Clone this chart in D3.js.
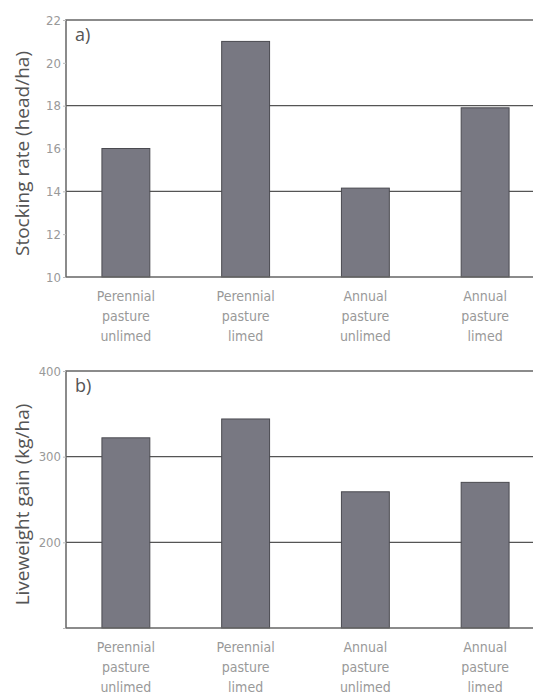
<!DOCTYPE html>
<html>
<head>
<meta charset="utf-8">
<script src="https://cdn.jsdelivr.net/npm/d3@7"></script>
<style>
  body { margin: 0; background: #fff; }
  .tick text { font-family: "DejaVu Sans Condensed", "DejaVu Sans", sans-serif; font-stretch: condensed; fill: #999; }
  .axis-title { font-family: "Open Sans", sans-serif; fill: #555; }
  .cat-label { font-family: "DejaVu Sans Condensed", "DejaVu Sans", sans-serif; font-stretch: condensed; fill: #999; }
</style>
</head>
<body>
<svg id="chart"></svg>
<script>
const categories = [
  ["Perennial", "pasture", "unlimed"],
  ["Perennial", "pasture", "limed"],
  ["Annual", "pasture", "unlimed"],
  ["Annual", "pasture", "limed"]
];
const stockingRate = [16, 21, 14.15, 17.9];
const liveweightGain = [322, 344, 259, 270];
const stockingTicks = [10, 12, 14, 16, 18, 20, 22];
const stockingGrid = [14, 18];
const gainTicks = [100, 200, 300, 400];
const gainGrid = [200, 300];

const width = 533, height = 697;
const svg = d3.select("#chart").attr("width", width).attr("height", height);

// left edge of plot, right edge runs past the window like in the scan
const left = 66, right = 545;

function panel(opts) {
  const { top, bottom, domain, values, ticks, grid, tickLabel, title, tag } = opts;
  const g = svg.append("g");

  const x = d3.scaleBand()
    .domain(d3.range(categories.length))
    .range([left, right])
    .paddingInner(0.6)
    .paddingOuter(0.3);

  const y = d3.scaleLinear().domain(domain).range([bottom, top]);

  // grid lines
  g.selectAll(".grid")
    .data(grid)
    .join("line")
    .attr("x1", left).attr("x2", right)
    .attr("y1", d => y(d)).attr("y2", d => y(d))
    .attr("stroke", "#555")
    .attr("stroke-width", 1.2);

  // bars
  g.selectAll(".bar")
    .data(values)
    .join("rect")
    .attr("x", (d, i) => x(i))
    .attr("y", d => y(d))
    .attr("width", x.bandwidth())
    .attr("height", d => y(domain[0]) - y(d))
    .attr("fill", "#787882")
    .attr("stroke", "#4a4a50")
    .attr("stroke-width", 1);

  // frame: top, left, bottom
  g.append("path")
    .attr("d", `M${right},${top}H${left}V${bottom}H${right}`)
    .attr("fill", "none")
    .attr("stroke", "#666")
    .attr("stroke-width", 1.5);

  // y axis
  const yAxis = d3.axisLeft(y)
    .tickValues(ticks)
    .tickSize(3)
    .tickPadding(2)
    .tickFormat(tickLabel);
  const ax = g.append("g")
    .attr("transform", `translate(${left},0)`)
    .call(yAxis);
  ax.select(".domain").remove();
  ax.selectAll(".tick line").attr("stroke", "#bbb");
  ax.selectAll(".tick text").attr("font-size", 13);

  // category labels
  categories.forEach((lines, i) => {
    g.append("text")
      .attr("class", "cat-label")
      .attr("x", x(i) + x.bandwidth() / 2)
      .attr("y", bottom + 24)
      .attr("text-anchor", "middle")
      .attr("font-size", 14)
      .selectAll("tspan")
      .data(lines)
      .join("tspan")
      .attr("x", x(i) + x.bandwidth() / 2)
      .attr("dy", (d, j) => j === 0 ? 0 : 20)
      .text(d => d);
  });

  // panel tag
  g.append("text")
    .attr("class", "axis-title")
    .attr("x", left + 9)
    .attr("y", top + 21)
    .attr("font-size", 18)
    .attr("fill", "#444")
    .text(tag);

  // axis title
  g.append("text")
    .attr("class", "axis-title")
    .attr("transform", `translate(29,${(top + bottom) / 2 + 5}) rotate(-90)`)
    .attr("text-anchor", "middle")
    .attr("font-size", 19)
    .text(title);
}

panel({
  top: 20, bottom: 277,
  domain: [10, 22],
  values: stockingRate,
  ticks: stockingTicks,
  grid: stockingGrid,
  tickLabel: d => d,
  title: "Stocking rate (head/ha)",
  tag: "a)"
});

panel({
  top: 371, bottom: 628,
  domain: [100, 400],
  values: liveweightGain,
  ticks: gainTicks,
  grid: gainGrid,
  tickLabel: d => d === 100 ? "" : d,
  title: "Liveweight gain (kg/ha)",
  tag: "b)"
});
</script>
</body>
</html>
